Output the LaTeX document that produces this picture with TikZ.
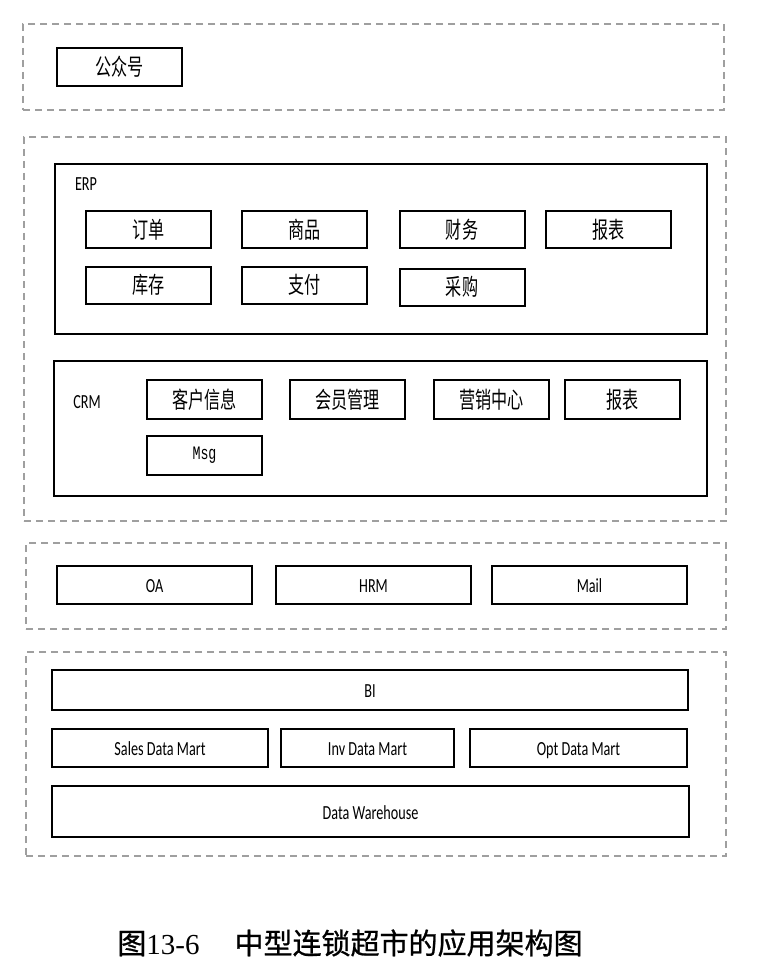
\documentclass[tikz,border=0pt]{standalone}
\usepackage{fontspec}
\newfontfamily\cjk[FakeStretch=0.7]{Noto Sans CJK SC}
\newfontfamily\capcjk[FakeBold=0.8]{Noto Sans CJK SC}
\newfontfamily\capnum{Liberation Serif}
\newfontfamily\lat[FakeStretch=0.71]{Carlito}
\newfontfamily\msgf[FakeStretch=0.7]{Liberation Mono}
\begin{document}
\begin{tikzpicture}[x=1pt, y=-1pt,
          grp/.style={draw=gray!75, line width=1.4pt, dash pattern=on 7pt off 5pt, inner sep=0pt},
          frm/.style={draw, line width=2pt, inner sep=0pt},
          bx/.style={draw, line width=2pt, inner sep=0pt, font=\cjk\fontsize{23}{23}\selectfont},
          lb/.style={draw, line width=2pt, inner sep=0pt, minimum height=38pt, text height=15.5pt, text depth=0pt,
                     font=\lat\fontsize{20}{20}\selectfont}]
        \useasboundingbox (0,0) rectangle (772,976);
        % layers
        \node[grp, minimum width=701, minimum height=86] (l1) at (373.5,67) {};
        \node[grp, minimum width=702, minimum height=384] (l2) at (375,329) {};
        \node[grp, minimum width=700, minimum height=86] (l3) at (376,586) {};
        \node[grp, minimum width=700, minimum height=204] (l4) at (376,754) {};
        \node[bx, minimum width=125, minimum height=38] (wx) at (119.5,67) {公众号};
        % ERP
        \node[frm, minimum width=652, minimum height=170] (erp) at (381,249) {};
        \node[font=\lat\fontsize{20}{20}\selectfont] (erpt) at (86,184) {ERP};
        \foreach \px/\py/\t/\nm in {148.5/229.5/订单/e1, 304.5/229.5/商品/e2, 462/229.5/财务/e3, 608.5/229.5/报表/e4,
                                    148.5/285/库存/e5, 304.5/285/支付/e6, 462/287/采购/e7} {
          \node[bx, minimum width=125, minimum height=37] (\nm) at (\px,\py) {\t};
        }
        % CRM
        \node[frm, minimum width=653, minimum height=135] (crm) at (380.5,428.5) {};
        \node[font=\lat\fontsize{20}{20}\selectfont] (crmt) at (87,402) {CRM};
        \foreach \px/\t/\nm in {204.5/客户信息/c1, 347.5/会员管理/c2, 491.5/营销中心/c3, 622.5/报表/c4} {
          \node[bx, minimum width=115, minimum height=39] (\nm) at (\px,399.5) {\t};
        }
        \node[bx, minimum width=115, minimum height=39, font=\msgf\fontsize{19}{19}\selectfont] (msg) at (204.5,455.5) {Msg};
        % office
        \foreach \px/\t/\nm in {154.5/OA/o1, 373.5/HRM/o2, 589.5/Mail/o3} {
          \node[lb, minimum width=195] (\nm) at (\px,585) {\t};
        }
        % data
        \node[lb, minimum width=636, minimum height=40] (bi) at (370,690) {BI};
        \node[lb, minimum width=216] (dm1) at (160,748) {Sales Data Mart};
        \node[lb, minimum width=173] (dm2) at (367.5,748) {Inv Data Mart};
        \node[lb, minimum width=217] (dm3) at (578.5,748) {Opt Data Mart};
        \node[lb, minimum width=637, minimum height=51] (dw) at (370.5,811.5) {Data Warehouse};
        \node[font=\fontsize{29}{29}\selectfont] (cap) at (350,943) {\capcjk 图\capnum 13-6\hspace{35pt}\capcjk 中型连锁超市的应用架构图};
      \end{tikzpicture}
\end{document}
